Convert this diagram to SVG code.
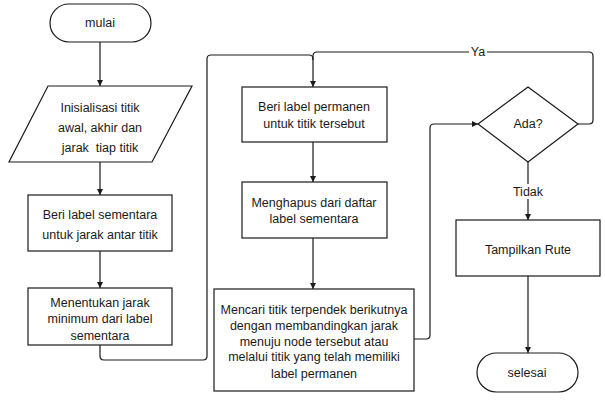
<svg xmlns="http://www.w3.org/2000/svg" width="605" height="403" viewBox="0 0 605 403">
<style>
.s{fill:#fff;stroke:#1a1a1a;stroke-width:1.2}
.c{fill:none;stroke:#1a1a1a;stroke-width:1.2}
text{font-family:"Liberation Sans",Arial,sans-serif;font-size:12.5px;fill:#1a1a1a;text-anchor:middle}
</style>
<defs>
<marker id="a" viewBox="0 0 8 8" refX="8" refY="4" markerWidth="6" markerHeight="6" orient="auto" markerUnits="userSpaceOnUse">
<path d="M0,0L8,4L0,8z" fill="#1a1a1a"/>
</marker>
</defs>
<rect width="605" height="403" fill="#fff"/>
<g id="connectors">
<path class="c" d="M100,42V86" marker-end="url(#a)"/>
<path class="c" d="M100,162V195" marker-end="url(#a)"/>
<path class="c" d="M100,251V288" marker-end="url(#a)"/>
<path class="c" d="M100,345V356Q100,360 104,360H203Q207,360 207,356V59Q207,55 211,55H309Q313,55 313,59V87" marker-end="url(#a)"/>
<path class="c" d="M578,124H589Q593,124 593,120V56Q593,52 589,52H317Q313,52 313,56V60"/>
<path class="c" d="M313,142V182" marker-end="url(#a)"/>
<path class="c" d="M313,238V289" marker-end="url(#a)"/>
<path class="c" d="M414,339H426Q430,339 430,335V128Q430,124 434,124H478" marker-end="url(#a)"/>
<path class="c" d="M528,162V220" marker-end="url(#a)"/>
<path class="c" d="M528,276V353" marker-end="url(#a)"/>
<rect x="469" y="45" width="18" height="14" fill="#fff"/>
<text x="478" y="56">Ya</text>
<rect x="510" y="184" width="36" height="15" fill="#fff"/>
<text x="528" y="196">Tidak</text>
</g>
<g id="mulai">
<rect class="s" x="50" y="4" width="101" height="38" rx="19"/>
<text x="100" y="27">mulai</text>
</g>
<g id="inisialisasi">
<path class="s" d="M48,86H192L152,162H9z"/>
<text x="100" y="112">Inisialisasi titik</text>
<text x="100" y="132">awal, akhir dan</text>
<text x="100" y="152" xml:space="preserve">jarak  tiap titik</text>
</g>
<g id="label-sementara">
<rect class="s" x="28" y="195" width="144" height="56"/>
<text x="100" y="219">Beri label sementara</text>
<text x="100" y="239">untuk jarak antar titik</text>
</g>
<g id="menentukan">
<rect class="s" x="28" y="288" width="144" height="57"/>
<text x="100" y="307">Menentukan jarak</text>
<text x="100" y="323">minimum dari label</text>
<text x="100" y="340">sementara</text>
</g>
<g id="label-permanen">
<rect class="s" x="242" y="87" width="145" height="55"/>
<text x="314" y="111">Beri label permanen</text>
<text x="314" y="128">untuk titik tersebut</text>
</g>
<g id="menghapus">
<rect class="s" x="242" y="182" width="145" height="56"/>
<text x="314" y="207">Menghapus dari daftar</text>
<text x="314" y="223">label sementara</text>
</g>
<g id="mencari">
<rect class="s" x="214" y="289" width="200" height="102"/>
<text x="314" y="314">Mencari titik terpendek berikutnya</text>
<text x="314" y="330">dengan membandingkan jarak</text>
<text x="314" y="346">menuju node tersebut atau</text>
<text x="314" y="361">melalui titik yang telah memiliki</text>
<text x="314" y="378">label permanen</text>
</g>
<g id="ada">
<path class="s" d="M528,87L578,124L528,162L478,124z"/>
<text x="528" y="128">Ada?</text>
</g>
<g id="tampilkan">
<rect class="s" x="456" y="220" width="144" height="56"/>
<text x="528" y="254">Tampilkan Rute</text>
</g>
<g id="selesai">
<rect class="s" x="477" y="353" width="101" height="39" rx="19.5"/>
<text x="527" y="377">selesai</text>
</g>
</svg>
